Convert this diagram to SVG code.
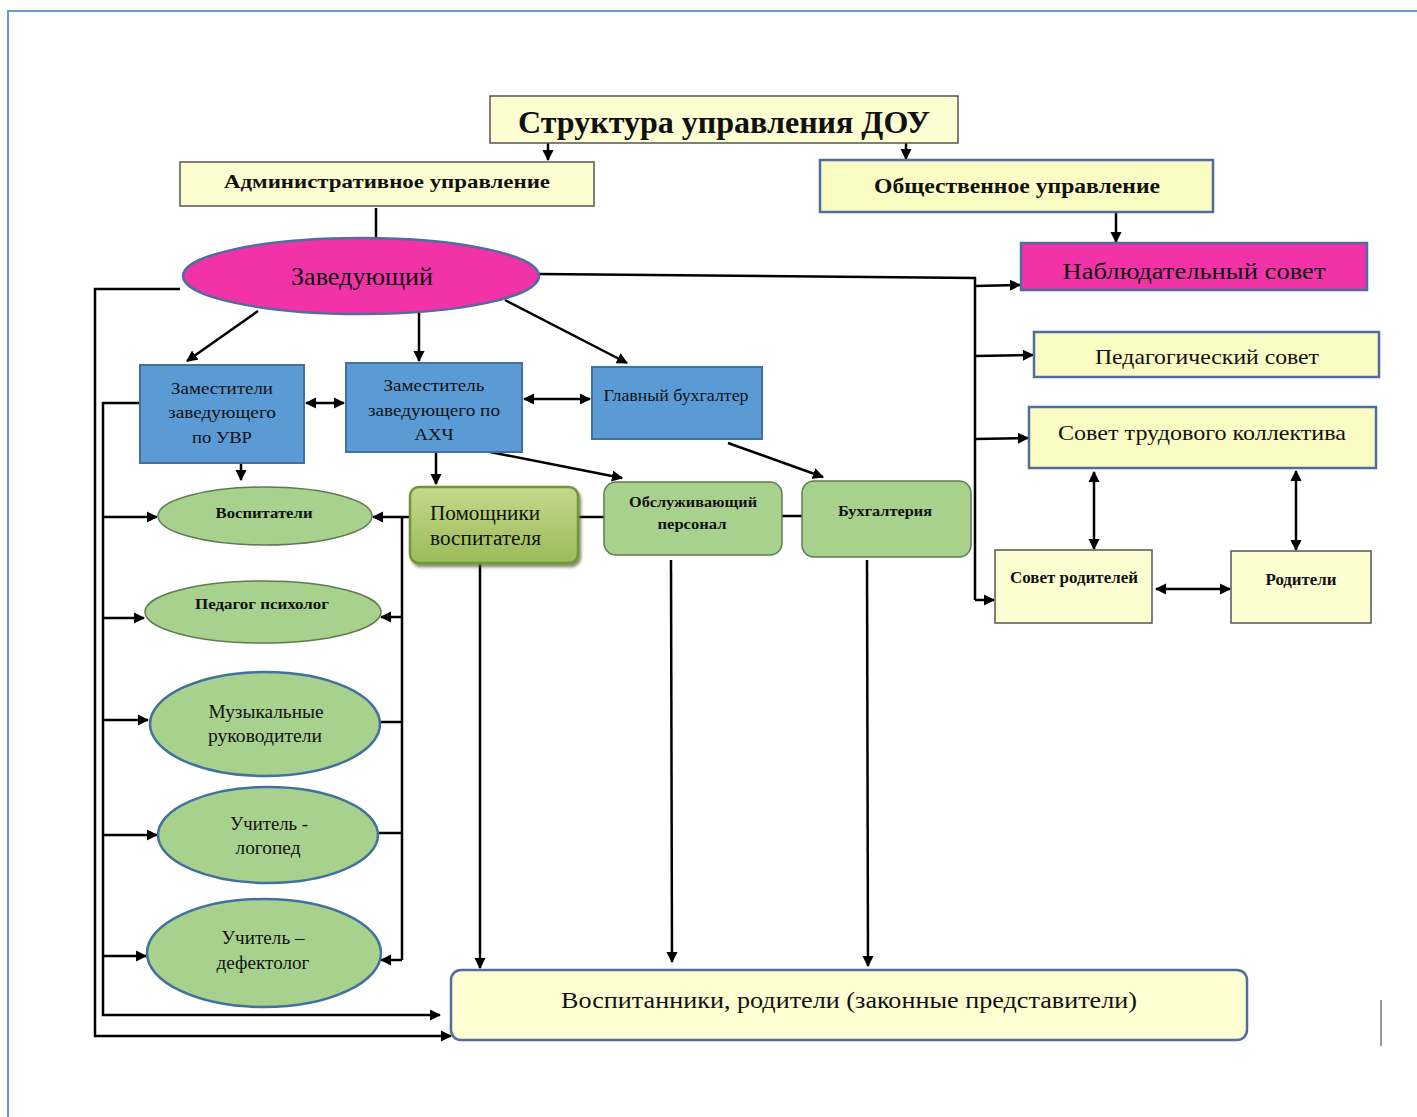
<svg xmlns="http://www.w3.org/2000/svg" width="1417" height="1117" viewBox="0 0 1417 1117">
<defs>
<style>
.t{font-family:"Liberation Serif","Times New Roman",serif;fill:#111;text-anchor:middle}
.b{font-weight:bold}
.yel{fill:#fdfdd2;stroke:#555;stroke-width:1.5}
.yelb{fill:#fbfbc4;stroke:#4f6d9e;stroke-width:2.5}
.blue{fill:#5b9bd5;stroke:#41719c;stroke-width:2}
.grn{fill:#a9d18e;stroke:#5f7a50;stroke-width:1.5}
.grnb{fill:#a9d18e;stroke:#41719c;stroke-width:2.5}
.pink{fill:#f233a8;stroke:#4f6d9e;stroke-width:2.5}
.ln{fill:none;stroke:#000;stroke-width:2.5}
.ar{fill:none;stroke:#000;stroke-width:2.5;marker-end:url(#ah)}
.ar2{fill:none;stroke:#000;stroke-width:2.5;marker-end:url(#ah);marker-start:url(#as)}
</style>
<marker id="ah" viewBox="0 0 10 10" refX="9" refY="5" markerWidth="4.5" markerHeight="4.5" orient="auto" markerUnits="strokeWidth"><path d="M0,0 L10,5 L0,10 z" fill="#000"/></marker>
<marker id="as" viewBox="0 0 10 10" refX="1" refY="5" markerWidth="4.5" markerHeight="4.5" orient="auto" markerUnits="strokeWidth"><path d="M10,0 L0,5 L10,10 z" fill="#000"/></marker>
<linearGradient id="gp" x1="0" y1="0" x2="0" y2="1"><stop offset="0" stop-color="#c3d98a"/><stop offset="1" stop-color="#9bbb59"/></linearGradient>
<filter id="sh" x="-10%" y="-10%" width="130%" height="130%"><feDropShadow dx="2" dy="3" stdDeviation="1.5" flood-color="#4f6228" flood-opacity="0.7"/></filter>
</defs>
<rect width="1417" height="1117" fill="#fff"/>
<path d="M8,1117 L8,11 L1417,11" fill="none" stroke="#6a98d4" stroke-width="2"/>
<line x1="1381" y1="1000" x2="1381" y2="1046" stroke="#999" stroke-width="2"/>

<g id="connectors">
<line class="ar" x1="548" y1="143" x2="548" y2="160"/>
<line class="ar" x1="906" y1="143" x2="906" y2="159"/>
<line class="ln" x1="376" y1="208" x2="376" y2="238"/>
<line class="ar" x1="1116" y1="212" x2="1116" y2="242"/>
<polyline class="ln" points="539,274 975,278 975,600"/>
<line class="ar" x1="975" y1="286" x2="1020" y2="285"/>
<line class="ar" x1="975" y1="356" x2="1033" y2="355"/>
<line class="ar" x1="975" y1="439" x2="1028" y2="438"/>
<line class="ar" x1="975" y1="600" x2="994" y2="600"/>
<line class="ar2" x1="1094" y1="472" x2="1094" y2="549"/>
<line class="ar2" x1="1296" y1="471" x2="1296" y2="550"/>
<line class="ar2" x1="1156" y1="589" x2="1230" y2="589"/>
<polyline class="ar" points="180,289 95,289 95,1036 451,1036"/>
<polyline class="ar" points="140,403 103,403 103,1015 440,1015"/>
<line class="ar" x1="103" y1="517" x2="157" y2="517"/>
<line class="ar" x1="103" y1="618" x2="144" y2="618"/>
<line class="ar" x1="103" y1="720" x2="148" y2="720"/>
<line class="ar" x1="103" y1="835" x2="157" y2="835"/>
<line class="ar" x1="103" y1="956" x2="146" y2="956"/>
<line class="ar" x1="410" y1="517" x2="373" y2="517"/>
<polyline class="ln" points="402,517 402,960"/>
<line class="ar" x1="402" y1="617" x2="381" y2="617"/>
<line class="ln" x1="402" y1="722" x2="380" y2="722"/>
<line class="ln" x1="402" y1="833" x2="378" y2="833"/>
<line class="ar" x1="402" y1="960" x2="381" y2="960"/>
<line class="ar" x1="258" y1="311" x2="187" y2="361"/>
<line class="ar" x1="419" y1="313" x2="419" y2="361"/>
<line class="ar" x1="505" y1="300" x2="627" y2="363"/>
<line class="ar2" x1="306" y1="403" x2="344" y2="403"/>
<line class="ar2" x1="524" y1="399" x2="590" y2="399"/>
<line class="ar" x1="241" y1="463" x2="241" y2="480"/>
<line class="ar" x1="436" y1="452" x2="436" y2="484"/>
<line class="ar" x1="490" y1="452" x2="622" y2="478"/>
<line class="ar" x1="728" y1="443" x2="823" y2="477"/>
<line class="ln" x1="578" y1="517" x2="604" y2="517"/>
<line class="ln" x1="782" y1="516" x2="802" y2="516"/>
<line class="ar" x1="480" y1="563" x2="480" y2="968"/>
<line class="ar" x1="671" y1="560" x2="672" y2="962"/>
<line class="ar" x1="867" y1="560" x2="868" y2="966"/>
</g>

<g id="title"><rect class="yel" x="490" y="96" width="468" height="47"/><text class="t b" x="724" y="133" font-size="31" textLength="412" lengthAdjust="spacingAndGlyphs">Структура управления ДОУ</text></g>
<g id="admin"><rect class="yel" x="180" y="162" width="414" height="44"/><text class="t b" x="387" y="188" font-size="19" textLength="326" lengthAdjust="spacingAndGlyphs">Административное управление</text></g>
<g id="public"><rect class="yelb" x="820" y="160" width="393" height="52"/><text class="t b" x="1017" y="193" font-size="20" textLength="286" lengthAdjust="spacingAndGlyphs">Общественное управление</text></g>
<g id="head"><ellipse class="pink" cx="361" cy="276" rx="178" ry="38"/><text class="t" x="362" y="285" font-size="25" textLength="142" lengthAdjust="spacingAndGlyphs">Заведующий</text></g>
<g id="supervisory"><rect class="pink" x="1021" y="243" width="346" height="47"/><text class="t" x="1194" y="279" font-size="24" textLength="263" lengthAdjust="spacingAndGlyphs">Наблюдательный совет</text></g>
<g id="pedcouncil"><rect class="yelb" x="1034" y="332" width="345" height="45"/><text class="t" x="1207" y="364" font-size="21" textLength="224" lengthAdjust="spacingAndGlyphs">Педагогический совет</text></g>
<g id="labour"><rect class="yelb" x="1029" y="407" width="347" height="61"/><text class="t" x="1202" y="440" font-size="22" textLength="288" lengthAdjust="spacingAndGlyphs">Совет трудового коллектива</text></g>
<g id="parentcouncil"><rect class="yel" x="995" y="550" width="157" height="73"/><text class="t b" x="1074" y="583" font-size="16" textLength="128" lengthAdjust="spacingAndGlyphs">Совет родителей</text></g>
<g id="parents"><rect class="yel" x="1231" y="551" width="140" height="72"/><text class="t b" x="1301" y="585" font-size="16" textLength="71" lengthAdjust="spacingAndGlyphs">Родители</text></g>
<g id="deputy-uvr"><rect class="blue" x="140" y="365" width="164" height="98"/>
<text class="t" font-size="17"><tspan x="222" y="394" textLength="102" lengthAdjust="spacingAndGlyphs">Заместители</tspan><tspan x="222" y="418" textLength="108" lengthAdjust="spacingAndGlyphs">заведующего</tspan><tspan x="222" y="443" textLength="60" lengthAdjust="spacingAndGlyphs">по УВР</tspan></text></g>
<g id="deputy-ahch"><rect class="blue" x="346" y="363" width="176" height="89"/>
<text class="t" font-size="17"><tspan x="434" y="391" textLength="101" lengthAdjust="spacingAndGlyphs">Заместитель</tspan><tspan x="434" y="416" textLength="132" lengthAdjust="spacingAndGlyphs">заведующего по</tspan><tspan x="434" y="440" textLength="39" lengthAdjust="spacingAndGlyphs">АХЧ</tspan></text></g>
<g id="chief-accountant"><rect class="blue" x="592" y="367" width="170" height="72"/><text class="t" x="676" y="401" font-size="16" textLength="145" lengthAdjust="spacingAndGlyphs">Главный бухгалтер</text></g>
<g id="assistants"><rect x="410" y="487" width="168" height="76" rx="9" fill="url(#gp)" stroke="#76923c" stroke-width="2.5" filter="url(#sh)"/>
<text class="t" font-size="20" style="text-anchor:start"><tspan x="430" y="520" textLength="110" lengthAdjust="spacingAndGlyphs">Помощники</tspan><tspan x="430" y="545" textLength="111" lengthAdjust="spacingAndGlyphs">воспитателя</tspan></text></g>
<g id="service"><rect class="grn" x="604" y="482" width="178" height="73" rx="12"/>
<text class="t b" font-size="15"><tspan x="693" y="507" textLength="128" lengthAdjust="spacingAndGlyphs">Обслуживающий</tspan><tspan x="692" y="529" textLength="69" lengthAdjust="spacingAndGlyphs">персонал</tspan></text></g>
<g id="accounting"><rect class="grn" x="802" y="481" width="169" height="76" rx="12"/><text class="t b" x="885" y="516" font-size="15" textLength="94" lengthAdjust="spacingAndGlyphs">Бухгалтерия</text></g>
<g id="pupils"><rect x="451" y="970" width="796" height="70" rx="10" fill="#fefed2" stroke="#4f6d9e" stroke-width="2.5"/><text class="t" x="849" y="1008" font-size="23" textLength="576" lengthAdjust="spacingAndGlyphs">Воспитанники, родители (законные представители)</text></g>
<g id="educators"><ellipse class="grn" cx="265" cy="516" rx="107" ry="29"/><text class="t b" x="264" y="518" font-size="15" textLength="97" lengthAdjust="spacingAndGlyphs">Воспитатели</text></g>
<g id="psychologist"><ellipse class="grn" cx="263" cy="612" rx="118" ry="31"/><text class="t b" x="262" y="609" font-size="15" textLength="134" lengthAdjust="spacingAndGlyphs">Педагог психолог</text></g>
<g id="music"><ellipse class="grnb" cx="265" cy="724" rx="115" ry="52"/>
<text class="t" font-size="18"><tspan x="266" y="718" textLength="115" lengthAdjust="spacingAndGlyphs">Музыкальные</tspan><tspan x="265" y="742" textLength="114" lengthAdjust="spacingAndGlyphs">руководители</tspan></text></g>
<g id="speech"><ellipse class="grnb" cx="268" cy="835" rx="110" ry="48"/>
<text class="t" font-size="18"><tspan x="269" y="830" textLength="78" lengthAdjust="spacingAndGlyphs">Учитель -</tspan><tspan x="268" y="854" textLength="65" lengthAdjust="spacingAndGlyphs">логопед</tspan></text></g>
<g id="defect"><ellipse class="grnb" cx="264" cy="953" rx="117" ry="54"/>
<text class="t" font-size="18"><tspan x="263" y="944" textLength="83" lengthAdjust="spacingAndGlyphs">Учитель –</tspan><tspan x="263" y="969" textLength="93" lengthAdjust="spacingAndGlyphs">дефектолог</tspan></text></g>
</svg>
